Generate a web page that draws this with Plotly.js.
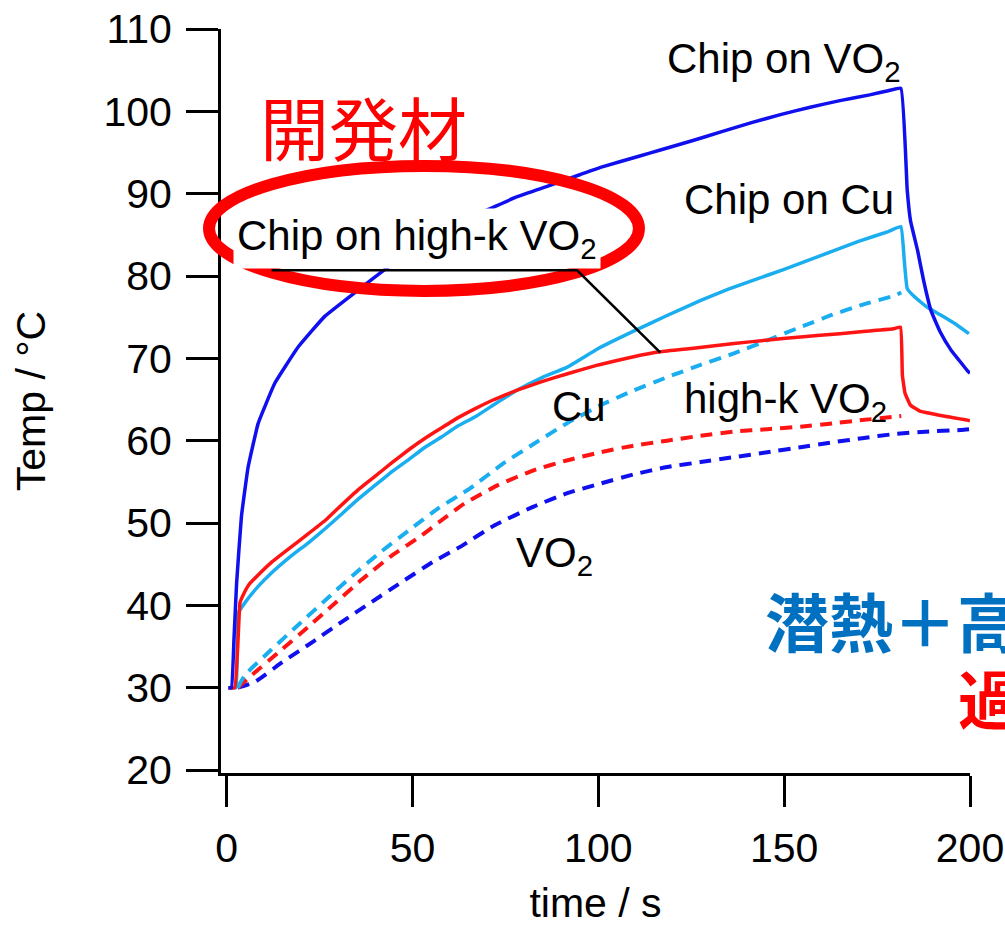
<!DOCTYPE html>
<html>
<head>
<meta charset="utf-8">
<script src="https://cdn.plot.ly/plotly-3.0.1.min.js"></script>
<style>
  html, body { margin: 0; padding: 0; background: #fff; overflow: hidden; }
  #chart { width: 1005px; height: 926px; }
</style>
</head>
<body>
<div id="chart"></div>
<script>
// ---- data ----
const chipVO2_t = [0.5, 1.3, 2.0, 2.7, 4.0, 5.8, 8.5, 13, 19.3, 26.4, 35.4, 43.5, 50, 57, 64, 70, 78, 87, 95, 100.6, 111.4, 116.7, 125, 133, 141, 149, 157, 165, 173, 178, 181.4, 183.1, 184, 185.9, 187.5, 189.5, 192, 194.9, 197, 199.3, 200];
const chipVO2_T = [30, 30, 36, 42.7, 50.8, 56.8, 62.1, 67, 71.4, 75.1, 78.3, 81.1, 83.2, 85.2, 86.9, 88, 89.6, 91, 92.3, 93.2, 94.6, 95.3, 96.4, 97.5, 98.6, 99.6, 100.5, 101.3, 102, 102.5, 102.8, 90.5, 86.7, 83.1, 79.5, 75.8, 73.2, 71, 69.8, 68.5, 68.2];

const chipCu_t = [0.5, 2.5, 3.1, 4.9, 8.5, 12, 17.4, 22, 26.5, 30, 35.4, 40, 44.4, 49, 53.4, 58, 62.3, 66.9, 72, 78, 85, 91.5, 100, 109.5, 118.5, 127.4, 135, 141.8, 150, 160, 170, 178, 181.4, 182.3, 183.1, 185, 188.5, 192, 196, 199.7];
const chipCu_T = [30, 30, 39, 40.3, 42.3, 43.9, 46.0, 47.6, 49.3, 50.7, 52.9, 54.6, 56.2, 57.7, 59.2, 60.5, 61.8, 62.9, 64.4, 66.1, 67.7, 68.9, 71.2, 73.3, 75.2, 77, 78.4, 79.5, 80.8, 82.5, 84.2, 85.4, 86, 82, 78.5, 77.5, 76.2, 75.3, 74.2, 73];

const chipHighK_t = [0.5, 2.2, 3.6, 4.4, 6, 8.5, 12, 17.4, 22, 26.5, 30, 35.3, 40, 44.4, 49, 53.4, 58, 62.3, 66.9, 72, 78, 85, 91.5, 100, 109.5, 116.7, 125, 136.5, 145, 154.4, 165, 172, 179.5, 181.3, 181.8, 182.5, 184, 186.5, 189.5, 194, 199.3, 200];
const chipHighK_T = [30, 30, 40.3, 41.2, 42.5, 43.7, 45.2, 47.1, 48.7, 50.3, 51.8, 54, 55.7, 57.3, 58.9, 60.3, 61.6, 62.8, 63.9, 65, 66.1, 67.2, 68.1, 69.2, 70.2, 70.8, 71.2, 71.8, 72.2, 72.6, 73, 73.3, 73.6, 73.8, 68, 65.8, 64.3, 63.6, 63.3, 62.9, 62.5, 62.4];

const cu_t = [3, 4.9, 12, 19.7, 27, 34.1, 41.5, 49.3, 57, 65.5, 74, 82.6, 91.5, 100.6, 109.5, 118.5, 127.5, 136.5, 145.5, 154.4, 163, 171, 179.5, 181.5];
const cu_T = [30, 31.5, 34.6, 37.8, 40.8, 43.7, 46.5, 49.2, 51.8, 54.2, 57.1, 59.6, 62.1, 64.3, 66.1, 67.7, 69.2, 70.6, 72.2, 73.8, 75.3, 76.5, 77.6, 78];

const highK_t = [3, 6.7, 14, 22, 29, 36.3, 44, 52.5, 58, 64.1, 73, 82.6, 91.5, 100.6, 109.5, 118.5, 127.5, 136.5, 145.5, 154.4, 163, 171, 179.5, 181.5];
const highK_T = [30, 31.5, 34.3, 37.4, 40.2, 43.1, 45.9, 48.5, 50.4, 52.4, 54.6, 56.4, 57.6, 58.6, 59.4, 60, 60.6, 61.1, 61.4, 61.7, 62.1, 62.5, 62.9, 63];

const vo2_t = [3, 7.6, 15, 23.3, 31, 39, 47, 55.6, 62.8, 72, 82.6, 91.5, 100.6, 109.5, 118.5, 127.5, 136.5, 145.5, 154.4, 163, 171, 179.5, 188, 197.5, 200];
const vo2_T = [30, 30.7, 33.1, 35.6, 38, 40.4, 42.8, 45.3, 47.1, 49.7, 52, 53.6, 54.8, 55.9, 56.8, 57.4, 58, 58.6, 59.2, 59.8, 60.3, 60.8, 61.1, 61.3, 61.4];

const xTicks = [0, 50, 100, 150, 200];
const yTicks = [20, 30, 40, 50, 60, 70, 80, 90, 100, 110];

// ---- styling ----
const BLUE = '#1010ee';
const CYAN = '#1aaef0';
const RED = '#ff1414';
const DASH = '12px,8px';
const FONT = 'Liberation Sans, Arial, sans-serif';
const CJK = 'Noto Sans CJK JP, sans-serif';

function solid(c) { return {color: c, width: 3.5, shape: 'spline', smoothing: 0.3}; }
function dashed(c) { return {color: c, width: 4, dash: DASH, shape: 'spline', smoothing: 0.5}; }

const traces = [
  {x: vo2_t, y: vo2_T, mode: 'lines', line: dashed(BLUE), name: 'VO2'},
  {x: highK_t, y: highK_T, mode: 'lines', line: dashed(RED), name: 'high-k VO2'},
  {x: cu_t, y: cu_T, mode: 'lines', line: dashed(CYAN), name: 'Cu'},
  {x: chipCu_t, y: chipCu_T, mode: 'lines', line: solid(CYAN), name: 'Chip on Cu'},
  {x: chipHighK_t, y: chipHighK_T, mode: 'lines', line: solid(RED), name: 'Chip on high-k VO2'},
  {x: chipVO2_t, y: chipVO2_T, mode: 'lines', line: solid(BLUE), name: 'Chip on VO2'}
];

function lab(text, x, y, extra) {
  return Object.assign({
    text: text, x: x, y: y, xref: 'x', yref: 'y',
    xanchor: 'left', yanchor: 'middle', showarrow: false,
    font: {family: FONT, size: 42, color: '#000'}
  }, extra || {});
}

const layout = {
  width: 1005, height: 926,
  margin: {l: 221, r: 35, t: 29, b: 153},
  paper_bgcolor: '#fff', plot_bgcolor: '#fff',
  showlegend: false,
  xaxis: {
    range: [-1.5, 200], tickvals: xTicks, ticktext: xTicks.map(String),
    ticks: 'outside', ticklen: 31, tickwidth: 3, tickcolor: '#000',
    showline: true, linewidth: 3, linecolor: '#000',
    showgrid: false, zeroline: false,
    tickfont: {family: FONT, size: 41, color: '#000'},
    ticklabelstandoff: 6,
    title: {text: 'time / s', font: {family: FONT, size: 41, color: '#000'}, standoff: 24},
    automargin: false
  },
  yaxis: {
    range: [19.64, 110], tickvals: yTicks, ticktext: yTicks.map(String),
    ticks: 'outside', ticklen: 32, tickwidth: 3, tickcolor: '#000',
    showline: true, linewidth: 3, linecolor: '#000',
    showgrid: false, zeroline: false,
    tickfont: {family: FONT, size: 41, color: '#000'},
    ticklabelstandoff: 6,
    title: {text: 'Temp / °C', font: {family: FONT, size: 41, color: '#000'}, standoff: 46},
    automargin: false
  },
  shapes: [
    {type: 'circle', xref: 'paper', yref: 'paper', x0: -0.016, x1: 0.558, y0: 0.648, y1: 0.816,
     line: {color: '#ff0000', width: 12}, layer: 'above'},
    {type: 'path', xref: 'x', yref: 'y', path: 'M12.1,80.7 L94.3,80.7 L116.7,70.7',
     line: {color: '#000', width: 2.5}, layer: 'above'}
  ],
  annotations: [
    lab('開発材', 36.8, 98.2, {xanchor: 'center', font: {family: CJK, size: 69, color: '#ff0000'}}),
    lab('Chip on high-k VO<sub>2</sub>', 1.6, 84.5, {bgcolor: '#fff', borderpad: 3}),
    lab('Chip on VO<sub>2</sub>', 118.0, 106.0),
    lab('Chip on Cu', 122.4, 89.3),
    lab('Cu', 87.0, 64.1),
    lab('high-k VO<sub>2</sub>', 122.4, 64.8),
    lab('VO<sub>2</sub>', 77.2, 46.0),
    lab('<b>潜熱＋高</b>', 144.4, 38.3, {font: {family: CJK, size: 64, color: '#0070c0'}}),
    lab('<b>過</b>', 196.1, 29.0, {font: {family: CJK, size: 64, color: '#ff0000'}})
  ]
};

Plotly.newPlot('chart', traces, layout, {staticPlot: true, displayModeBar: false});
</script>
</body>
</html>
